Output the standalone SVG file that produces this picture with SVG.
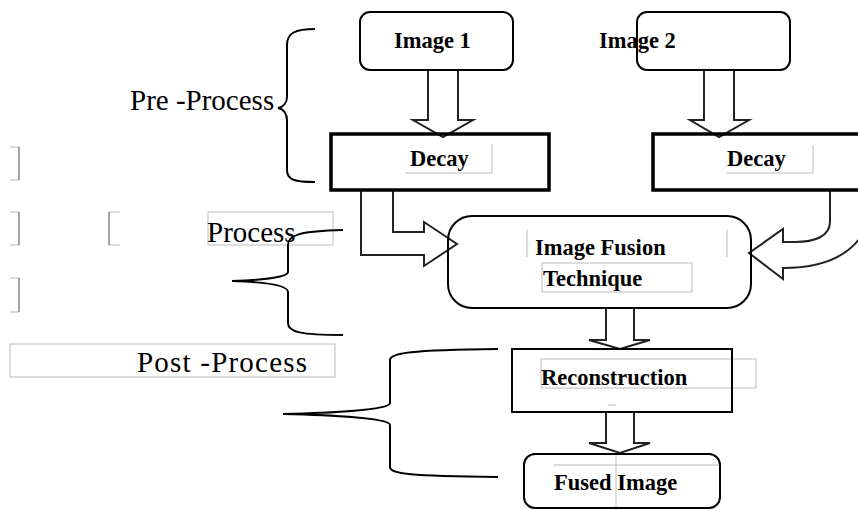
<svg xmlns="http://www.w3.org/2000/svg" width="858" height="510" viewBox="0 0 858 510">
<style>
.box{fill:none;stroke:#000;stroke-width:2}
.thick{fill:none;stroke:#000;stroke-width:3.5}
.arr{fill:none;stroke:#222;stroke-width:2;stroke-linejoin:miter}
.brace{fill:none;stroke:#000;stroke-width:2}
.lbl{font-family:"Liberation Serif","Times New Roman",serif;font-weight:bold;font-size:22.5px;fill:#000}
.big{font-family:"Liberation Serif","Times New Roman",serif;font-size:29px;fill:#000}
.art{fill:none;stroke:#bbb;stroke-width:1}
.artd{fill:none;stroke:#666;stroke-width:1.2}
</style>
<rect width="858" height="510" fill="#fff"/>

<g id="artifacts">
  <path class="art" d="M10,147 H19 M10,180 H19"/>
  <path class="artd" d="M19,147 V180"/>
  <path class="art" d="M10,212 H19 M10,245 H19"/>
  <path class="artd" d="M19,212 V245"/>
  <path class="art" d="M10,278 H19 M10,312 H19"/>
  <path class="artd" d="M19,278 V312"/>
  <path class="art" d="M109,212 H120 M109,245 H120"/>
  <path class="artd" d="M109,212 V245"/>
  <rect class="art" x="208" y="212" width="125" height="33" stroke="#999"/>
  <rect class="art" x="10" y="344" width="325" height="33" stroke="#999"/>
  <path class="art" d="M492,144 V173 M405,173 H492"/>
  <path class="art" d="M813,145 V173 M727,173 H813"/>
  <path class="art" d="M527,230 V257 M727,230 V257"/>
  <rect class="art" x="542" y="263" width="150" height="29" stroke="#ccc"/>
  <rect class="art" x="541" y="359" width="215" height="29" stroke="#ddd"/>
  <path class="art" d="M608,405 H616"/>
  <path class="art" d="M616,454 V510 M554,465 H720" stroke="#ddd"/>
</g>

<g id="connectors">
  <polygon class="arr" points="428,70 458,70 458,120 473,120 443,137 413,120 428,120"/>
  <polygon class="arr" points="704,70 734,70 734,120 749,120 719,137 690,120 704,120"/>
  <polygon class="arr" points="361,190 361,255 424,255 424,266 457,244 424,222 424,232 393,232 393,190"/>
  <path class="arr" d="M830,190 L830,222 C830,236 815,242 795,242 L783,242 L783,229 L749,253 L783,279 L783,268 C818,268 845,258 860,238"/>
  <polygon class="arr" points="606,308 634,308 634,340 650,340 620,349 589,340 606,340"/>
  <polygon class="arr" points="606,412 634,412 634,443 650,443 620,453 589,443 606,443"/>
</g>

<g id="braces">
  <path class="brace" d="M315,29 C295,29 287,33 287,45 L287,97 C287,103 283,107 278,108 C283,109 287,113 287,121 L287,170 C287,180 295,182 315,182"/>
  <path class="brace" d="M343,230 C300,231 288,235 288,245 L288,272 C288,277 265,280 232,281 C265,282 288,285 288,292 L288,323 C288,332 300,335 343,335"/>
  <path class="brace" d="M498,349 C410,350 390,353 390,360 L390,403 C390,410 330,413 283,414 C330,415 390,418 390,425 L390,467 C390,474 410,476 498,477"/>
</g>

<g id="image1">
  <rect class="box" x="360" y="12" width="153" height="58" rx="10" stroke-width="1.6"/>
  <text class="lbl" x="394" y="48">Image 1</text>
</g>
<g id="image2">
  <rect class="box" x="637" y="12" width="153" height="58" rx="10" stroke-width="1.6"/>
  <text class="lbl" x="599" y="48">Image 2</text>
</g>
<g id="decay1">
  <rect class="thick" x="331" y="134" width="218" height="56"/>
  <text class="lbl" x="410" y="166">Decay</text>
</g>
<g id="decay2">
  <rect class="thick" x="653" y="134" width="210" height="56"/>
  <text class="lbl" x="727" y="166">Decay</text>
</g>
<g id="fusion">
  <rect class="box" x="448" y="216" width="303" height="92" rx="24"/>
  <text class="lbl" x="535" y="255">Image Fusion</text>
  <text class="lbl" x="543" y="286">Technique</text>
</g>
<g id="reconstruction">
  <rect class="box" x="512" y="349" width="220" height="63"/>
  <text class="lbl" x="541" y="385">Reconstruction</text>
</g>
<g id="fused">
  <rect class="box" x="524" y="454" width="196" height="54" rx="11"/>
  <text class="lbl" x="554" y="490">Fused Image</text>
</g>

<g id="labels">
  <text class="big" x="130" y="110">Pre -Process</text>
  <text class="big" x="207" y="242">Process</text>
  <text class="big" x="137" y="372" textLength="170" lengthAdjust="spacing">Post -Process</text>
</g>
</svg>
